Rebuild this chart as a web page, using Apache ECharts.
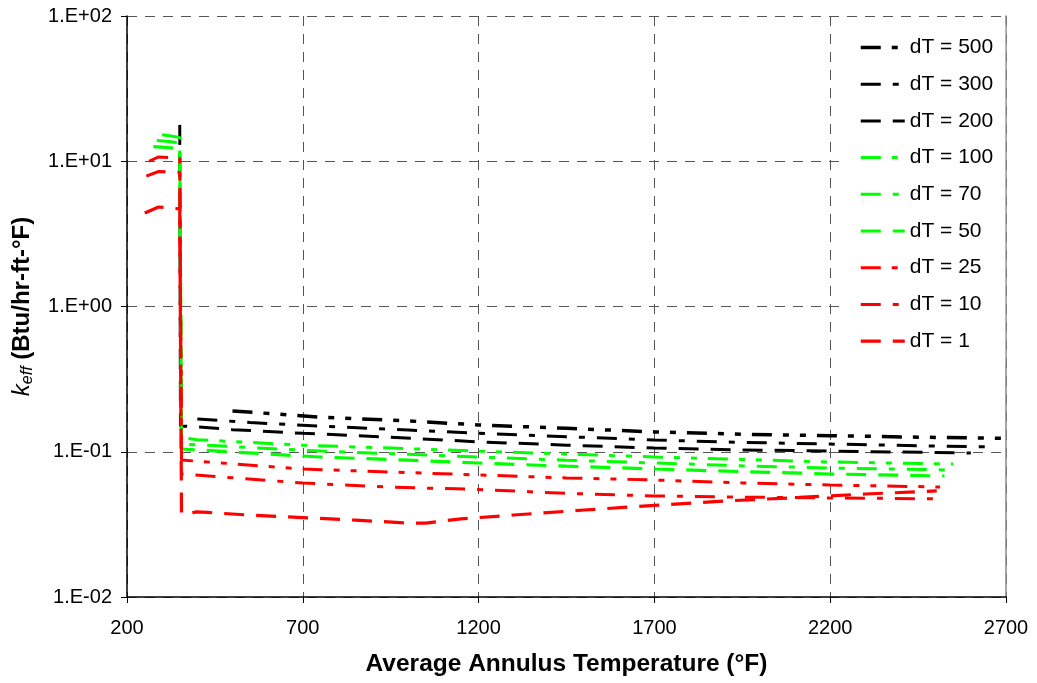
<!DOCTYPE html>
<html>
<head>
<meta charset="utf-8">
<script src="https://cdn.jsdelivr.net/npm/echarts@6/dist/echarts.min.js"></script>
<style>html,body{margin:0;padding:0;background:#fff}#c{width:1037px;height:683px}</style>
</head>
<body>
<div id="c"></div>
<script>
// ---- data (Average Annulus Temperature °F, k_eff Btu/hr-ft-°F) ----
const xTicks = [200, 700, 1200, 1700, 2200, 2700];
const yTickLabels = ['1.E-02', '1.E-01', '1.E+00', '1.E+01', '1.E+02'];
const seriesNames = ['dT = 500', 'dT = 300', 'dT = 200', 'dT = 100', 'dT = 70', 'dT = 50', 'dT = 25', 'dT = 10', 'dT = 1'];

const dT500 = [[500, 0.191], [750, 0.173], [1000, 0.163], [1200, 0.153], [1450, 0.145], [1700, 0.137], [1950, 0.132], [2200, 0.129], [2450, 0.126], [2750, 0.123]];
const dT300 = [[400, 0.168], [550, 0.159], [750, 0.150], [1000, 0.141], [1200, 0.134], [1450, 0.127], [1700, 0.1205], [1950, 0.116], [2200, 0.113], [2450, 0.110], [2650, 0.108]];
const dT200 = [[350, 17.8], [352, 0.150], [370, 0.150], [500, 0.142], [700, 0.134], [950, 0.126], [1200, 0.117], [1450, 0.111], [1700, 0.106], [1950, 0.103], [2200, 0.101], [2400, 0.0995], [2600, 0.098]];
const dT100 = [[300, 15.2], [320, 15.0], [350, 14.6], [355, 0.125], [400, 0.121], [700, 0.111], [950, 0.106], [1200, 0.101], [1450, 0.0965], [1700, 0.092], [1950, 0.0885], [2200, 0.085], [2400, 0.0835], [2550, 0.0824]];
const dT70 = [[285, 13.9], [320, 13.7], [350, 13.4], [355, 0.113], [750, 0.101], [1000, 0.096], [1200, 0.092], [1450, 0.0875], [1700, 0.0837], [1950, 0.080], [2200, 0.0773], [2535, 0.0749]];
const dT50 = [[275, 12.6], [320, 12.4], [350, 12.2], [355, 0.1045], [750, 0.092], [1000, 0.0875], [1200, 0.0837], [1450, 0.0795], [1700, 0.0761], [1950, 0.073], [2200, 0.0703], [2525, 0.0681]];
const dT25 = [[262.5, 10.0], [290, 10.7], [350, 10.5], [355, 0.0877], [700, 0.0761], [950, 0.0725], [1200, 0.0692], [1450, 0.066], [1700, 0.0639], [1950, 0.061], [2200, 0.059], [2512.5, 0.0572]];
const dT10 = [[255, 7.9], [290, 8.5], [350, 8.4], [355, 0.0703], [700, 0.0609], [950, 0.057], [1200, 0.055], [1450, 0.0517], [1700, 0.0496], [1950, 0.0487], [2200, 0.0481], [2505, 0.0474]];
const dT1 = [[250.5, 4.4], [290, 4.84], [350, 4.7], [355, 0.038], [365, 0.0367], [395, 0.0385], [430, 0.0382], [550, 0.0366], [700, 0.0352], [850, 0.0338], [1000, 0.0323], [1050, 0.0323], [1150, 0.0345], [1300, 0.0367], [1500, 0.0397], [1700, 0.0427], [1900, 0.0458], [2100, 0.0483], [2300, 0.0512], [2503, 0.0537]];

const seriesData = [dT500, dT300, dT200, dT100, dT70, dT50, dT25, dT10, dT1];

// ---- styles ----
const seriesStyles = [
  { color: '#000000', width: 3.5, dash: [20, 11, 6, 11, 6, 11] },
  { color: '#000000', width: 3, dash: [20, 12, 6, 12] },
  { color: '#000000', width: 3, dash: [20, 12] },
  { color: '#00FF00', width: 3, dash: [20, 11, 6, 11, 6, 11] },
  { color: '#00FF00', width: 3, dash: [20, 12, 6, 12] },
  { color: '#00FF00', width: 3.2, dash: [20, 12] },
  { color: '#FF0000', width: 3, dash: [20, 11, 6, 11, 6, 11] },
  { color: '#FF0000', width: 3, dash: [20, 12, 6, 12] },
  { color: '#FF0000', width: 3.2, dash: [20, 12] }
];

const FONT = '"Liberation Sans", Arial, sans-serif';
const chart = echarts.init(document.getElementById('c'), null, { renderer: 'canvas' });

const series = seriesNames.map((name, i) => ({
  name: name,
  type: 'line',
  data: seriesData[i],
  showSymbol: false,
  symbol: 'none',
  clip: true,
  lineStyle: { color: seriesStyles[i].color, width: seriesStyles[i].width, type: seriesStyles[i].dash, cap: 'butt' },
  itemStyle: { color: seriesStyles[i].color },
  emphasis: { disabled: true },
  z: 3 + i
}));

chart.setOption({
  animation: false,
  backgroundColor: '#ffffff',
  grid: { left: 127, right: 31, top: 16, bottom: 86, containLabel: false },
  legend: {
    orient: 'vertical',
    left: 845,
    top: 24,
    padding: [13, 12, 12, 14],
    backgroundColor: '#ffffff',
    itemWidth: 44,
    itemHeight: 14,
    itemGap: 15.7,
    selectedMode: false,
    textStyle: { fontFamily: FONT, fontSize: 21, color: '#000' },
    data: seriesNames.map((n, i) => ({
      name: n,
      itemStyle: { color: 'rgba(0,0,0,0)', borderWidth: 0, opacity: 0 },
      lineStyle: { color: seriesStyles[i].color, width: seriesStyles[i].width, type: seriesStyles[i].dash }
    }))
  },
  xAxis: {
    type: 'value',
    min: xTicks[0],
    max: xTicks[xTicks.length - 1],
    interval: 500,
    name: 'Average Annulus Temperature (°F)',
    nameLocation: 'middle',
    nameGap: 55,
    nameTextStyle: { fontFamily: FONT, fontSize: 24.5, fontWeight: 'bold', color: '#000' },
    axisLine: { onZero: false, lineStyle: { color: '#000', width: 1.5 } },
    axisTick: { inside: false, length: 6, lineStyle: { color: '#000', width: 1 } },
    axisLabel: { fontFamily: FONT, fontSize: 20, color: '#000', margin: 21, formatter: v => String(v) },
    splitLine: { show: true, lineStyle: { color: '#555', width: 1, type: [10, 8] } }
  },
  yAxis: [{
    type: 'log',
    logBase: 10,
    min: 0.01,
    max: 100,
    name: '{k|k}{s|eff}{b| (Btu/hr-ft-°F)}',
    nameLocation: 'middle',
    nameGap: 91,
    nameRotate: 90,
    nameTextStyle: {
      color: '#000',
      rich: {
        k: { fontFamily: FONT, fontSize: 24, fontStyle: 'italic', color: '#000', lineHeight: 28 },
        s: { fontFamily: FONT, fontSize: 16, fontStyle: 'italic', color: '#000', lineHeight: 16, verticalAlign: 'bottom' },
        b: { fontFamily: FONT, fontSize: 24, fontWeight: 'bold', color: '#000', lineHeight: 28 }
      }
    },
    axisLine: { show: true, lineStyle: { color: '#000', width: 1.5 } },
    axisTick: { show: true, inside: false, length: 6, lineStyle: { color: '#000' } },
    minorTick: { show: false },
    axisLabel: {
      fontFamily: FONT, fontSize: 20, color: '#000', margin: 15,
      formatter: v => yTickLabels[Math.round(Math.log10(v)) + 2]
    },
    splitLine: { show: true, lineStyle: { color: '#555', width: 1, type: [10, 8] } }
  }, {
    type: 'log',
    logBase: 10,
    min: 0.01,
    max: 100,
    position: 'right',
    axisLine: { show: true, lineStyle: { color: '#888', width: 1.5 } },
    axisTick: { show: false },
    axisLabel: { show: false },
    splitLine: { show: false }
  }],
  series: series
});
</script>
</body>
</html>
